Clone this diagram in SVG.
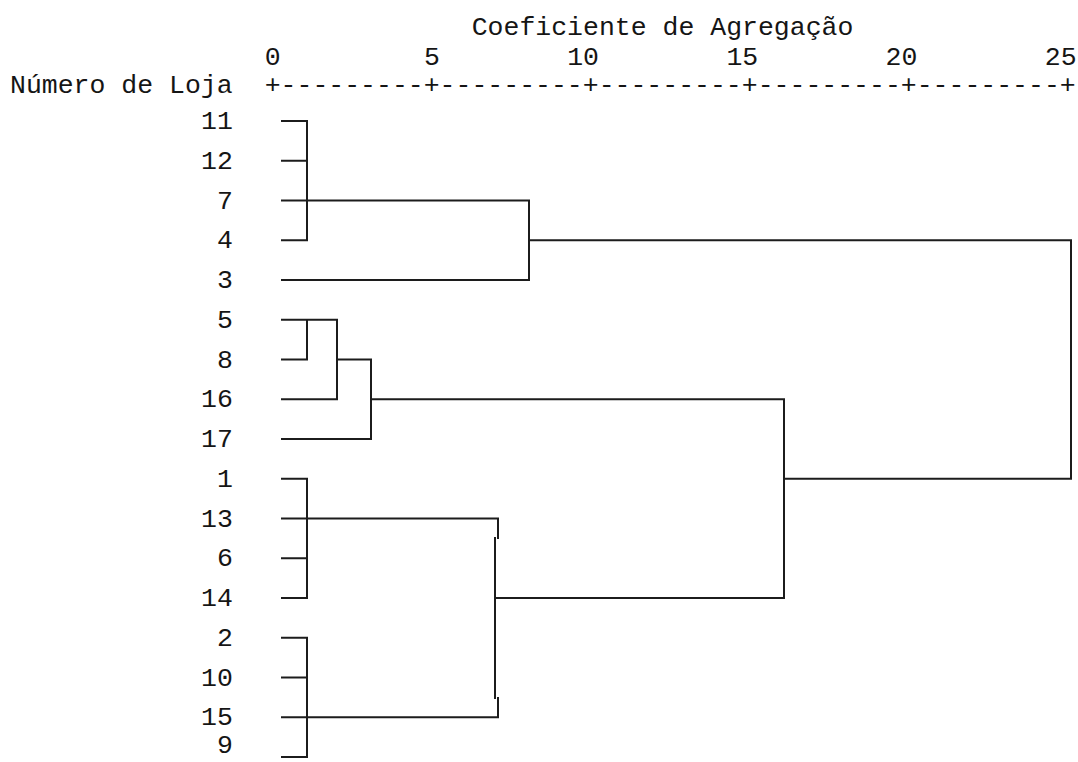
<svg xmlns="http://www.w3.org/2000/svg" width="1078" height="762" viewBox="0 0 1078 762">
<style>
text{font-family:"Liberation Mono","Courier New",monospace;font-size:26.5px;fill:#151515}
.ln{fill:none;stroke:#1c1c1c;stroke-width:2;stroke-linecap:square}
</style>
<rect width="1078" height="762" fill="#fff"/>
<g id="header">
<text x="471.7" y="35">Coeficiente de Agregação</text>
<text x="264.7" y="65">0</text>
<text x="423.9" y="65">5</text>
<text x="567.2" y="65">10</text>
<text x="726.4" y="65">15</text>
<text x="885.6" y="65">20</text>
<text x="1044.8" y="65">25</text>
<text x="10" y="93">Número de Loja</text>
<text x="264.7" y="93">+---------+---------+---------+---------+---------+</text>
</g>
<g id="leaves">
<g id="leaf-11"><text x="201" y="129">11</text></g>
<g id="leaf-12"><text x="201" y="168.75">12</text></g>
<g id="leaf-7"><text x="217" y="208.5">7</text></g>
<g id="leaf-4"><text x="217" y="248.25">4</text></g>
<g id="leaf-3"><text x="217" y="288">3</text></g>
<g id="leaf-5"><text x="217" y="327.75">5</text></g>
<g id="leaf-8"><text x="217" y="367.5">8</text></g>
<g id="leaf-16"><text x="201" y="407.25">16</text></g>
<g id="leaf-17"><text x="201" y="447">17</text></g>
<g id="leaf-1"><text x="217" y="486.75">1</text></g>
<g id="leaf-13"><text x="201" y="526.5">13</text></g>
<g id="leaf-6"><text x="217" y="566.25">6</text></g>
<g id="leaf-14"><text x="201" y="606">14</text></g>
<g id="leaf-2"><text x="217" y="645.75">2</text></g>
<g id="leaf-10"><text x="201" y="685.5">10</text></g>
<g id="leaf-15"><text x="201" y="725.25">15</text></g>
<g id="leaf-9"><text x="217" y="753">9</text></g>
</g>
<g id="connectors" class="ln">
<path class="ln" d="M282 121H307M282 160.75H307M282 240.25H307M307 121V240.25M282 200.5H529M282 280H529M529 200.5V280M529 240.25H1071V478.75H784"/>
<path class="ln" d="M282 319.75H337M282 359.5H307M307 319.75V359.5M337 319.75V399.25M282 399.25H337M337 359.5H371M371 359.5V439M282 439H371M371 399.25H784V598"/>
<path class="ln" d="M282 478.75H307M282 558.25H307M282 598H307M307 478.75V598M282 518.5H498V538M282 637.75H307M282 677.5H307M282 757H307M307 637.75V757M282 717.25H498V698M495 538V698M495 598H784"/>
</g>
</svg>
